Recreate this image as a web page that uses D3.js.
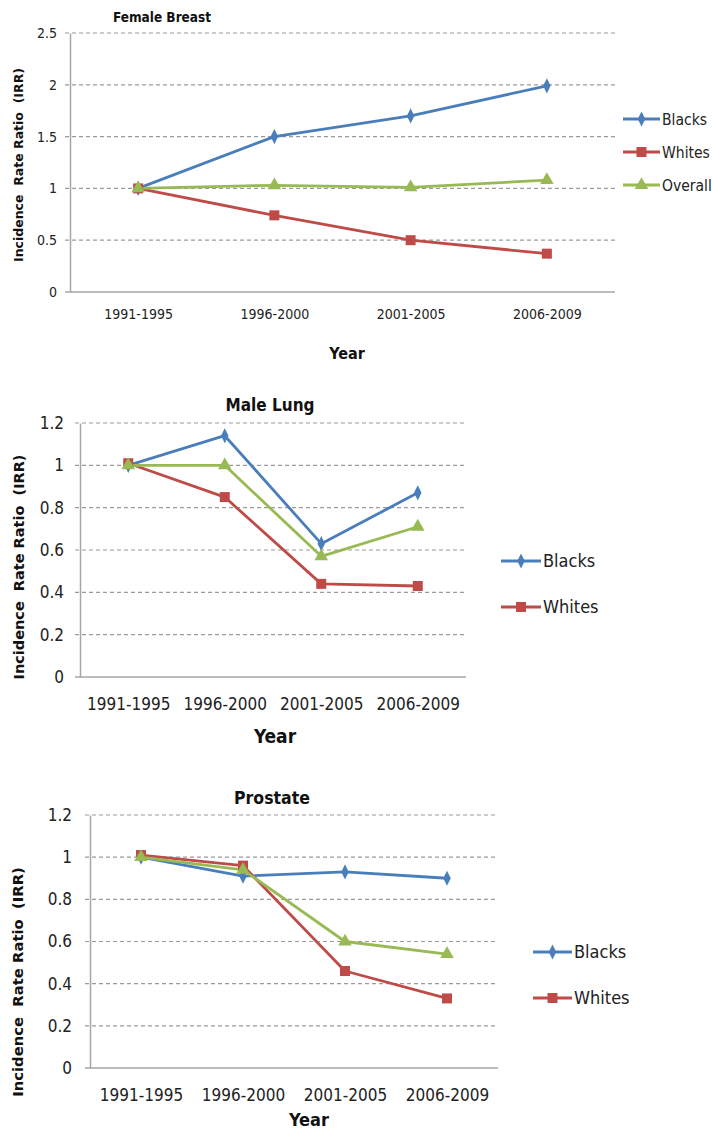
<!DOCTYPE html>
<html><head><meta charset="utf-8">
<script src="https://cdn.jsdelivr.net/npm/d3@7"></script>
<style>
body{margin:0;background:#fff;}
svg{display:block;}
.tick text{font-family:"DejaVu Sans Condensed","DejaVu Sans",sans-serif;fill:#222;}
</style></head>
<body>
<svg id="c" width="713" height="1131"></svg>
<script>
const categories = ["1991-1995","1996-2000","2001-2005","2006-2009"];
const seriesNames = ["Blacks","Whites","Overall"];
const colors = ["#4A7EBB","#BE4B48","#98B954"];

const breastBlacks  = [1.00, 1.50, 1.70, 1.99];
const breastWhites  = [1.00, 0.74, 0.50, 0.37];
const breastOverall = [1.00, 1.03, 1.01, 1.08];
const breastTicks = [0, 0.5, 1, 1.5, 2, 2.5];

const lungBlacks  = [1.00, 1.14, 0.63, 0.87];
const lungWhites  = [1.01, 0.85, 0.44, 0.43];
const lungOverall = [1.00, 1.00, 0.57, 0.71];
const lungTicks = [0, 0.2, 0.4, 0.6, 0.8, 1, 1.2];

const prostBlacks  = [1.00, 0.91, 0.93, 0.90];
const prostWhites  = [1.01, 0.96, 0.46, 0.33];
const prostOverall = [1.00, 0.94, 0.60, 0.54];
const prostTicks = [0, 0.2, 0.4, 0.6, 0.8, 1, 1.2];

const svg = d3.select("#c");
const FONT = "DejaVu Sans Condensed, DejaVu Sans, sans-serif";

function marker(g, type, x, y, color){
  if(type===0){
    g.append("path").attr("d", d3.symbol(d3.symbolDiamond, 60)())
      .attr("transform",`translate(${x},${y}) scale(0.9,1.05)`).attr("fill",color);
  } else if(type===1){
    g.append("path").attr("d", d3.symbol(d3.symbolSquare, 100)())
      .attr("transform",`translate(${x},${y})`).attr("fill",color);
  } else {
    g.append("path").attr("d", d3.symbol(d3.symbolTriangle, 80)())
      .attr("transform",`translate(${x},${y})`).attr("fill",color);
  }
}

function drawChart(cfg){
  const g = svg.append("g");
  const x = d3.scalePoint().domain(categories).range([cfg.left, cfg.right]).padding(0.5);
  const y = d3.scaleLinear().domain([0, d3.max(cfg.ticks)]).range([cfg.bottom, cfg.top]);

  g.append("g").selectAll("line").data(cfg.ticks.filter(t=>t>0)).join("line")
    .attr("x1", cfg.left-5).attr("x2", cfg.right)
    .attr("y1", d=>y(d)).attr("y2", d=>y(d))
    .attr("stroke","#9a9a9a").attr("stroke-width",1.2).attr("stroke-dasharray","4,3");

  const ya = g.append("g").attr("transform",`translate(${cfg.left},0)`)
    .call(d3.axisLeft(y).tickValues(cfg.ticks).tickSize(0).tickPadding(cfg.tickPad).tickFormat(d=>String(d)));
  ya.select(".domain").attr("stroke","#a6a6a6").attr("stroke-width",1.5);
  ya.selectAll("text").attr("font-size",cfg.tickFont);

  const xa = g.append("g").attr("transform",`translate(0,${cfg.bottom})`)
    .call(d3.axisBottom(x).tickSize(0).tickPadding(cfg.xTickPad));
  xa.select(".domain").remove();
  g.append("line").attr("x1",cfg.left-5).attr("x2",cfg.right).attr("y1",cfg.bottom).attr("y2",cfg.bottom)
    .attr("stroke","#a6a6a6").attr("stroke-width",1.5);
  xa.selectAll("text").attr("font-size",cfg.tickFont);

  cfg.series.forEach((vals,i)=>{
    const line = d3.line().x((d,j)=>x(categories[j])).y(d=>y(d));
    g.append("path").datum(vals).attr("d",line).attr("fill","none")
      .attr("stroke",colors[i]).attr("stroke-width",2.8).attr("stroke-linejoin","round");
  });
  cfg.series.forEach((vals,i)=>{
    vals.forEach((v,j)=>marker(g,i,x(categories[j]),y(v),colors[i]));
  });

  g.append("text").attr("x",cfg.titleX).attr("y",cfg.titleY).attr("text-anchor","middle")
    .attr("font-family",FONT).attr("font-weight","bold")
    .attr("font-size",cfg.titleFont).attr("fill","#111").text(cfg.title);
  g.append("text").attr("transform",`translate(${cfg.yLabX},${cfg.yLabY}) rotate(-90)`)
    .attr("text-anchor","middle").attr("font-family","DejaVu Sans, sans-serif").attr("font-weight","bold")
    .attr("font-size",cfg.yLabFont).attr("fill","#111").attr("xml:space","preserve")
    .text("Incidence  Rate Ratio  (IRR)");
  g.append("text").attr("x",cfg.xLabX).attr("y",cfg.xLabY).attr("text-anchor","middle")
    .attr("font-family",FONT).attr("font-weight","bold")
    .attr("font-size",cfg.xLabFont).attr("fill","#111").text("Year");

  for(let i=0;i<cfg.legendCount;i++){
    const ly = cfg.legY + i*cfg.legStep;
    g.append("line").attr("x1",cfg.legX).attr("x2",cfg.legX+cfg.legLen).attr("y1",ly).attr("y2",ly)
      .attr("stroke",colors[i]).attr("stroke-width",2.8);
    marker(g,i,cfg.legX+cfg.legLen/2,ly,colors[i]);
    g.append("text").attr("x",cfg.legX+cfg.legLen+2).attr("y",ly).attr("dy","0.36em")
      .attr("font-family",FONT)
      .attr("font-size",cfg.legFont).attr("fill","#222").text(seriesNames[i]);
  }
}

drawChart({
  title:"Female Breast", series:[breastBlacks,breastWhites,breastOverall], ticks:breastTicks,
  left:70, right:615, top:33, bottom:292, tickPad:13, xTickPad:17, tickFont:14,
  titleX:162, titleY:22, titleFont:13.5, yLabX:23, yLabY:165, yLabFont:12.5,
  xLabX:347, xLabY:359, xLabFont:16,
  legX:623, legLen:37, legY:119, legStep:33, legFont:15.5, legendCount:3
});
drawChart({
  title:"Male Lung", series:[lungBlacks,lungWhites,lungOverall], ticks:lungTicks,
  left:80, right:466, top:423, bottom:677, tickPad:16, xTickPad:21, tickFont:17,
  titleX:270, titleY:411, titleFont:17, yLabX:24, yLabY:567, yLabFont:14.5,
  xLabX:275, xLabY:743, xLabFont:19,
  legX:501, legLen:40, legY:561, legStep:46, legFont:18, legendCount:2
});
drawChart({
  title:"Prostate", series:[prostBlacks,prostWhites,prostOverall], ticks:prostTicks,
  left:90, right:498, top:815, bottom:1068, tickPad:18, xTickPad:21, tickFont:17,
  titleX:272, titleY:804, titleFont:17.5, yLabX:23, yLabY:982, yLabFont:14.8,
  xLabX:309, xLabY:1126, xLabFont:18,
  legX:533, legLen:39, legY:952, legStep:46, legFont:18, legendCount:2
});
</script>
</body></html>
